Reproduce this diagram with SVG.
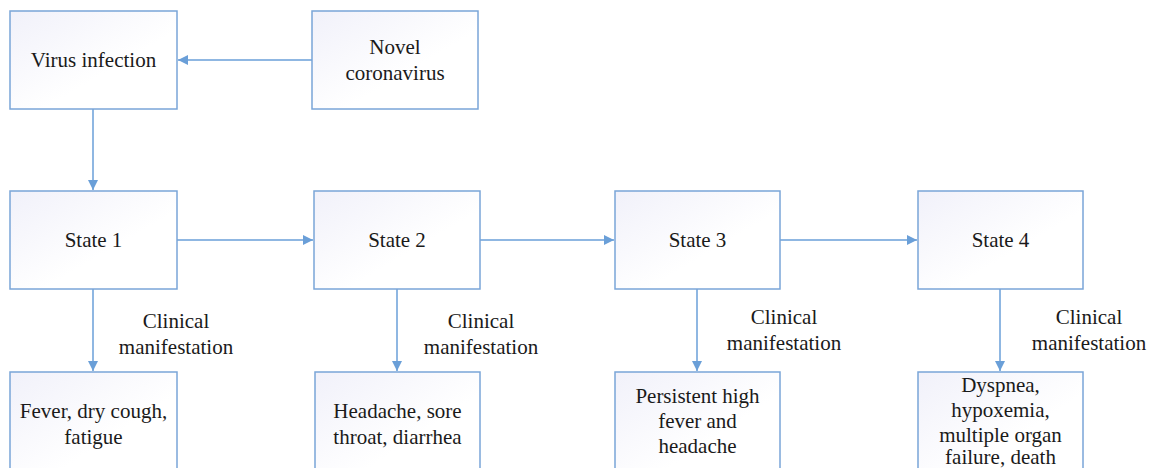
<svg xmlns="http://www.w3.org/2000/svg" width="1150" height="468" viewBox="0 0 1150 468">
<defs>
<linearGradient id="g" x1="0" y1="0" x2="1" y2="1">
<stop offset="0" stop-color="#f1f1fa"/>
<stop offset="0.6" stop-color="#ffffff"/>
</linearGradient>
<marker id="a" viewBox="0 0 10 10" refX="10" refY="5" markerWidth="10" markerHeight="10" markerUnits="userSpaceOnUse" orient="auto">
<path d="M0,0 L10,5 L0,10 z" fill="#6a9fd8"/>
</marker>
<style>
.b{fill:url(#g);stroke:#7aa5d8;stroke-width:1.5}
.t{font-size:21px;fill:#1a1a1a;text-anchor:middle}
.c{fill:none;stroke:#6a9fd8;stroke-width:1.5;marker-end:url(#a)}
</style>
</defs>
<rect width="1150" height="468" fill="#fff"/>
<g id="connectors">
<line class="c" x1="312" y1="60" x2="178" y2="60"/>
<line class="c" x1="93" y1="109" x2="93" y2="190"/>
<line class="c" x1="177" y1="240" x2="313" y2="240"/>
<line class="c" x1="480" y1="240" x2="614" y2="240"/>
<line class="c" x1="780" y1="240" x2="917" y2="240"/>
<line class="c" x1="93" y1="289" x2="93" y2="371"/>
<line class="c" x1="397" y1="289" x2="397" y2="371"/>
<line class="c" x1="697" y1="289" x2="697" y2="371"/>
<line class="c" x1="1000" y1="289" x2="1000" y2="371"/>
</g>
<g font-family="Liberation Serif, DejaVu Serif, serif">
<g id="virus">
<rect class="b" x="10" y="11" width="167" height="98"/>
<text class="t" x="93.5" y="67">Virus infection</text>
</g>
<g id="novel">
<rect class="b" x="312" y="11" width="166" height="98"/>
<text class="t" x="395" y="54">Novel</text>
<text class="t" x="395" y="80">coronavirus</text>
</g>
<g id="state1">
<rect class="b" x="10" y="191" width="167" height="98"/>
<text class="t" x="93.5" y="247">State 1</text>
</g>
<g id="state2">
<rect class="b" x="314" y="191" width="166" height="98"/>
<text class="t" x="397" y="247">State 2</text>
</g>
<g id="state3">
<rect class="b" x="615" y="191" width="165" height="98"/>
<text class="t" x="697.5" y="247">State 3</text>
</g>
<g id="state4">
<rect class="b" x="918" y="191" width="165" height="98"/>
<text class="t" x="1000.5" y="247">State 4</text>
</g>
<g id="label1">
<text class="t" x="176" y="328">Clinical</text>
<text class="t" x="176" y="354">manifestation</text>
</g>
<g id="label2">
<text class="t" x="481" y="328">Clinical</text>
<text class="t" x="481" y="354">manifestation</text>
</g>
<g id="label3">
<text class="t" x="784" y="324">Clinical</text>
<text class="t" x="784" y="350">manifestation</text>
</g>
<g id="label4">
<text class="t" x="1089" y="324">Clinical</text>
<text class="t" x="1089" y="350">manifestation</text>
</g>
<g id="sym1">
<rect class="b" x="10" y="372" width="167" height="110"/>
<text class="t" x="93.5" y="418">Fever, dry cough,</text>
<text class="t" x="93.5" y="444">fatigue</text>
</g>
<g id="sym2">
<rect class="b" x="315" y="372" width="165" height="110"/>
<text class="t" x="397.5" y="418">Headache, sore</text>
<text class="t" x="397.5" y="444">throat, diarrhea</text>
</g>
<g id="sym3">
<rect class="b" x="615" y="372" width="165" height="110"/>
<text class="t" x="697.5" y="403">Persistent high</text>
<text class="t" x="697.5" y="428">fever and</text>
<text class="t" x="697.5" y="453">headache</text>
</g>
<g id="sym4">
<rect class="b" x="918" y="372" width="165" height="110"/>
<text class="t" x="1000.5" y="392">Dyspnea,</text>
<text class="t" x="1000.5" y="417">hypoxemia,</text>
<text class="t" x="1000.5" y="442">multiple organ</text>
<text class="t" x="1000.5" y="464">failure, death</text>
</g>
</g>
</svg>
